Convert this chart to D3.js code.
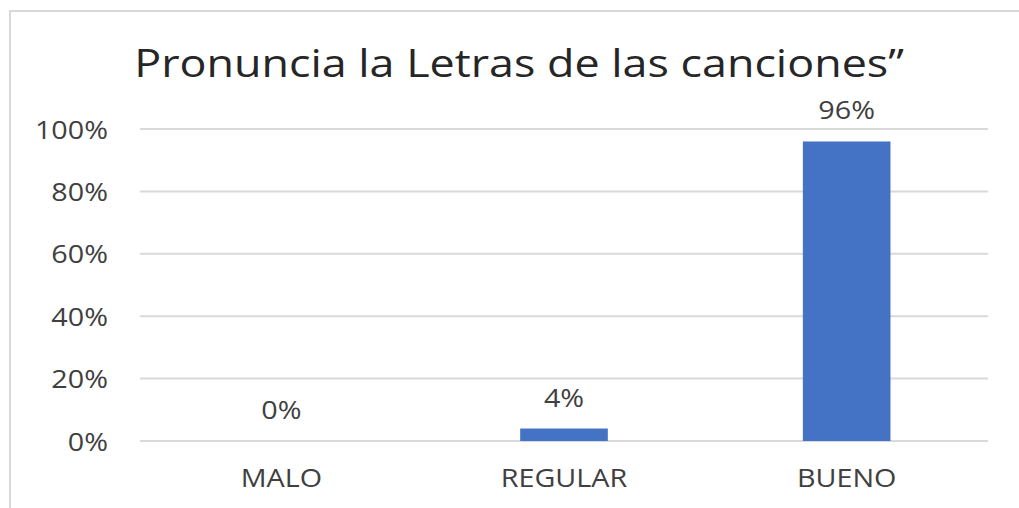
<!DOCTYPE html>
<html>
<head>
<meta charset="utf-8">
<script src="https://cdn.jsdelivr.net/npm/d3@7"></script>
<style>
  body { margin: 0; background: #fff; }
  text { font-family: "Open Sans", "Noto Sans", sans-serif; }
</style>
</head>
<body>
<div id="corpo"></div>
<script>
// datos del grafico
var categorias = ["MALO", "REGULAR", "BUENO"];
var valores = [0, 0.04, 0.96];
var ticks = [0, 0.2, 0.4, 0.6, 0.8, 1];
var titulo = "Pronuncia la Letras de las canciones\u201D";

var width = 1019, height = 508;
var margen = { left: 140, right: 988, top: 129, bottom: 441 };
var estirar = 1.15;   // el texto del original esta algo ensanchado

var svg = d3.select("#corpo").append("svg")
    .attr("width", width)
    .attr("height", height);

// borde del area del grafico
svg.append("rect")
    .attr("x", 10)
    .attr("y", 11)
    .attr("width", width + 20)
    .attr("height", height + 20)
    .style("fill", "none")
    .style("stroke", "#d9d9d9")
    .style("stroke-width", 2);

var x = d3.scaleBand()
    .domain(categorias)
    .range([margen.left, margen.right])
    .paddingInner(0.69)
    .paddingOuter(0.345);

var y = d3.scaleLinear()
    .domain([0, 1])
    .range([margen.bottom, margen.top]);

function pos(px, py) {
    return "translate(" + px + "," + py + ") scale(" + estirar + ",1)";
}

// lineas de la grilla
svg.selectAll(".grid")
    .data(ticks)
    .enter().append("line")
    .attr("class", "grid")
    .attr("x1", margen.left)
    .attr("x2", margen.right)
    .attr("y1", function(d) { return y(d); })
    .attr("y2", function(d) { return y(d); })
    .style("stroke", "#d9d9d9")
    .style("stroke-width", 2);

// eje y
var yAxis = svg.append("g")
    .attr("transform", "translate(108,0)")
    .call(d3.axisLeft(y).tickValues(ticks).tickSize(0).tickPadding(0)
        .tickFormat(function(d) { return Math.round(d * 100) + "%"; }));
yAxis.select(".domain").remove();
yAxis.selectAll("text")
    .attr("x", null)
    .attr("dy", "0.36em")
    .attr("transform", "scale(" + estirar + ",1)")
    .style("font-size", "25px")
    .style("fill", "#404040");

// eje x
var xAxis = svg.append("g")
    .attr("transform", "translate(0," + margen.bottom + ")")
    .call(d3.axisBottom(x).tickSize(0).tickPadding(0));
xAxis.select(".domain").remove();
xAxis.selectAll("text")
    .attr("y", null)
    .attr("dy", 0)
    .attr("transform", pos(0, 46))
    .style("font-size", "25px")
    .style("fill", "#404040");

// barras
svg.selectAll(".bar")
    .data(valores)
    .enter().append("rect")
    .attr("class", "bar")
    .attr("x", function(d, i) { return x(categorias[i]); })
    .attr("width", x.bandwidth())
    .attr("y", function(d) { return y(d); })
    .attr("height", function(d) { return y(0) - y(d); })
    .style("fill", "#4472c4");

// etiquetas de valores
svg.selectAll(".etiqueta")
    .data(valores)
    .enter().append("text")
    .attr("class", "etiqueta")
    .attr("transform", function(d, i) {
        return pos(x(categorias[i]) + x.bandwidth() / 2, y(d) - 22);
    })
    .attr("text-anchor", "middle")
    .style("font-size", "25px")
    .style("fill", "#404040")
    .text(function(d) { return Math.round(d * 100) + "%"; });

// titulo
svg.append("text")
    .attr("transform", pos((133 + 905) / 2, 77))
    .attr("text-anchor", "middle")
    .style("font-size", "39px")
    .style("fill", "#262626")
    .text(titulo);
</script>
</body>
</html>
